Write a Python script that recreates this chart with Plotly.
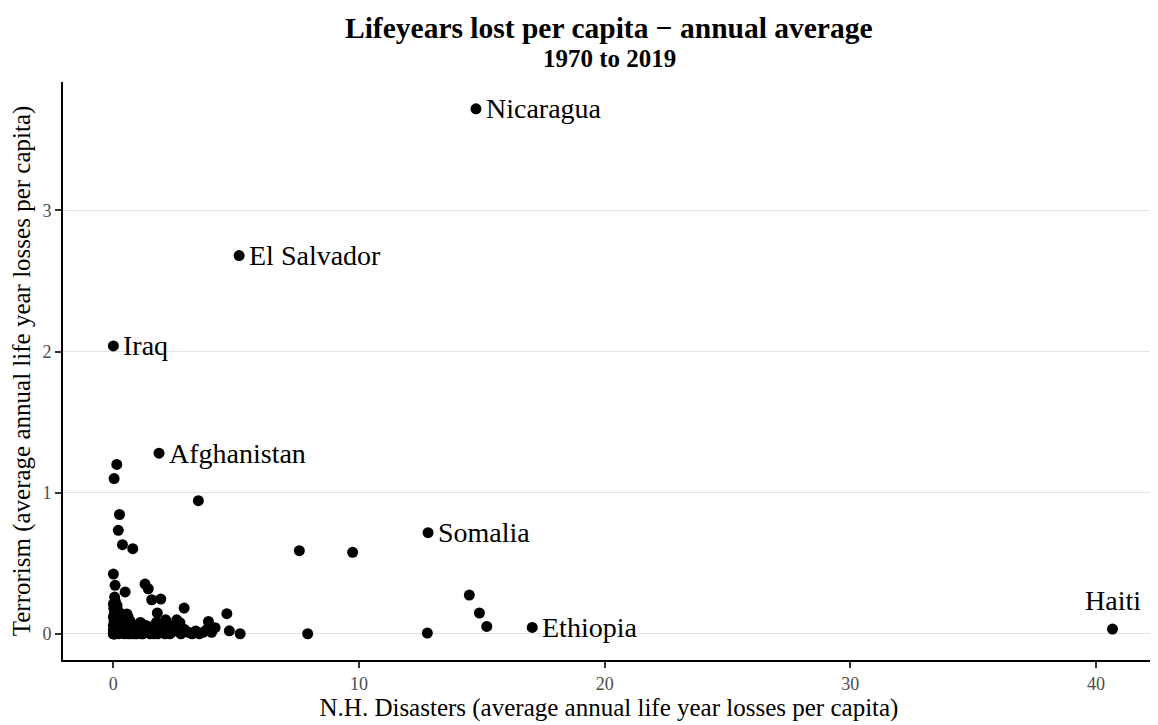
import plotly.graph_objects as go

# ---- data ----
labeled_names = ["Nicaragua", "El Salvador", "Iraq", "Afghanistan", "Somalia", "Ethiopia", "Haiti"]
labeled_x = [14.76, 5.12, 0.0, 1.86, 12.81, 17.05, 40.67]
labeled_y = [3.72, 2.68, 2.04, 1.28, 0.716, 0.045, 0.033]

other_x = [0.14, 0.03, 3.46, 0.25, 0.20, 0.37, 0.79, 7.57, 9.74, 14.49, 14.90, 15.20, 7.91, 12.78,
           0.00, 0.07, 0.48, 1.29, 1.42, 1.56, 1.93, 2.88, 1.79, 4.62, 4.72, 5.16, 3.87, 4.14,
           2.13, 2.58, 2.71,
           0.00, 0.02, 0.05, 0.10, 0.00, 0.00, 0.03, 0.00, 0.05, 0.02, 0.00, 0.08, 0.15, 0.20,
           0.25, 0.30, 0.35, 0.40, 0.45, 0.50, 0.55, 0.60, 0.65, 0.70, 0.75, 0.85, 0.90, 0.95,
           1.05, 1.15, 1.25, 1.35, 1.45, 1.50, 1.60, 1.70, 1.80, 1.90, 2.00, 2.10, 2.20, 2.35,
           2.50, 2.65, 2.75, 2.90, 3.05, 3.20, 3.35, 3.50, 3.65, 3.80, 4.00, 0.12, 0.18, 0.22,
           0.28, 0.32, 0.38, 0.42, 0.58, 0.62, 0.68, 0.80, 0.88, 1.00, 1.10, 1.20, 1.30, 1.55,
           1.65, 1.75, 2.05, 2.30, 2.45, 0.05, 0.10, 0.15, 0.00, 0.04, 0.09, 0.01, 0.06]
other_y = [1.20, 1.10, 0.943, 0.845, 0.733, 0.631, 0.603, 0.589, 0.577, 0.274, 0.147, 0.052, 0.0, 0.005,
           0.423, 0.343, 0.296, 0.352, 0.319, 0.241, 0.246, 0.182, 0.147, 0.142, 0.021, 0.0, 0.087, 0.043,
           0.099, 0.099, 0.078,
           0.00, 0.01, 0.00, 0.02, 0.03, 0.06, 0.09, 0.12, 0.15, 0.18, 0.21, 0.23, 0.20, 0.16,
           0.12, 0.08, 0.05, 0.02, 0.00, 0.10, 0.14, 0.12, 0.06, 0.03, 0.00, 0.01, 0.04, 0.00,
           0.02, 0.00, 0.03, 0.01, 0.05, 0.00, 0.02, 0.04, 0.00, 0.07, 0.02, 0.00, 0.03, 0.01,
           0.02, 0.05, 0.00, 0.03, 0.01, 0.00, 0.02, 0.00, 0.01, 0.03, 0.01, 0.05, 0.03, 0.00,
           0.02, 0.14, 0.10, 0.13, 0.02, 0.00, 0.09, 0.06, 0.00, 0.05, 0.08, 0.00, 0.06, 0.03,
           0.00, 0.08, 0.05, 0.00, 0.06, 0.26, 0.11, 0.07, 0.00, 0.00, 0.01, 0.00, 0.00]

x_ticks = [0, 10, 20, 30, 40]
y_ticks = [0, 1, 2, 3]

title_text = "Lifeyears lost per capita \u2212 annual average"
subtitle_text = "1970 to 2019"
x_title = "N.H. Disasters (average annual life year losses per capita)"
y_title = "Terrorism (average annual life year losses per capita)"

FONT = "Liberation Serif, Times New Roman, serif"

fig = go.Figure()
fig.add_trace(go.Scatter(
    x=other_x + labeled_x, y=other_y + labeled_y, mode="markers",
    marker=dict(color="black", size=11, line=dict(width=0)),
    showlegend=False, hoverinfo="skip"))

for name, xv, yv in zip(labeled_names, labeled_x, labeled_y):
    if name == "Haiti":
        fig.add_annotation(x=xv, y=yv, text=name, showarrow=False, xanchor="center",
                           yanchor="bottom", yshift=11, font=dict(family=FONT, size=28, color="black"))
    else:
        fig.add_annotation(x=xv, y=yv, text=name, showarrow=False, xanchor="left",
                           yanchor="middle", xshift=8, font=dict(family=FONT, size=28, color="black"))

fig.add_annotation(x=0.5, y=1, xref="paper", yref="paper", yshift=54, yanchor="middle",
                   text="<b>" + title_text + "</b>", showarrow=False,
                   font=dict(family=FONT, size=29.5, color="black"))
fig.add_annotation(x=0.5, y=1, xref="paper", yref="paper", yshift=24, yanchor="middle",
                   text="<b>" + subtitle_text + "</b>", showarrow=False,
                   font=dict(family=FONT, size=25, color="black"))

fig.update_layout(
    width=1150, height=717,
    margin=dict(l=55, r=3, t=74, b=65),
    paper_bgcolor="white", plot_bgcolor="white",
    font=dict(family=FONT, color="black"),
    xaxis=dict(range=[-2.05, 42.4], tickvals=x_ticks, showgrid=False, zeroline=False,
               showline=True, linecolor="black", linewidth=2, mirror=False,
               ticks="outside", ticklen=6, tickwidth=1.5, tickcolor="#333333",
               tickfont=dict(family=FONT, size=18, color="#4D4D4D"),
               title=dict(text=x_title, font=dict(family=FONT, size=25, color="black"), standoff=5)),
    yaxis=dict(range=[-0.186, 3.91], tickvals=y_ticks, showgrid=True, gridcolor="#E3E3E3", gridwidth=1,
               zeroline=False, showline=True, linecolor="black", linewidth=2,
               ticks="outside", ticklen=6, tickwidth=1.5, tickcolor="#333333",
               tickfont=dict(family=FONT, size=18, color="#4D4D4D"),
               title=dict(text=y_title, font=dict(family=FONT, size=25, color="black"), standoff=7)),
)

fig.write_html("out.html")
